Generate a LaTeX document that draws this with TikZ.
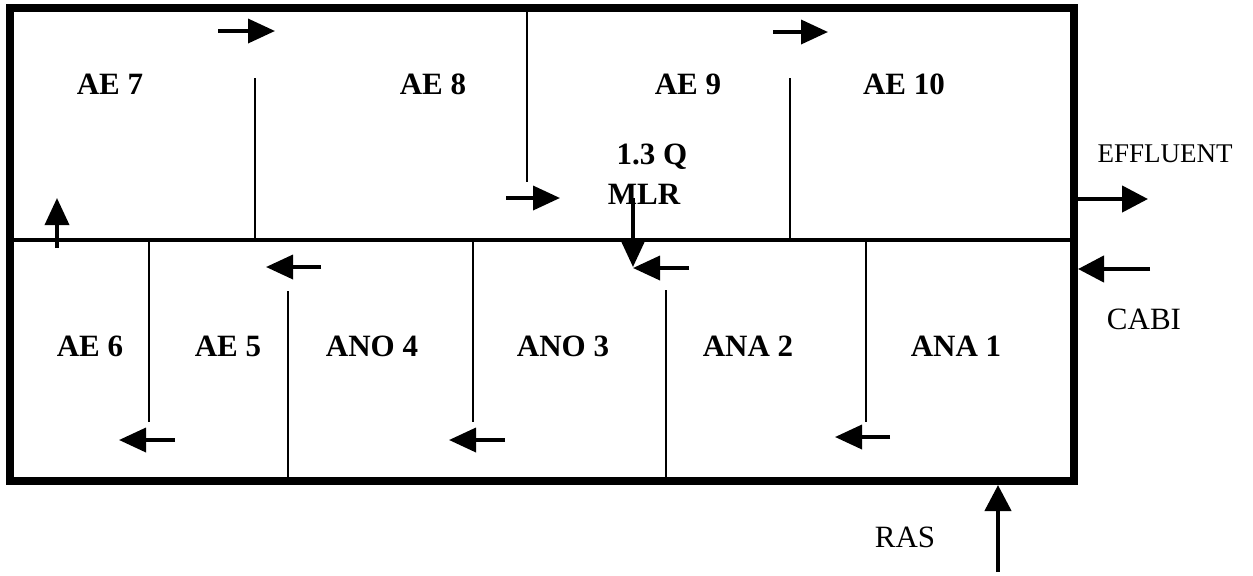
\documentclass[tikz,border=0pt]{standalone}
\usepackage{fontspec}
\setmainfont{Liberation Serif}
\usetikzlibrary{arrows.meta}

\tikzset{
  wall/.style={line width=4pt, line join=miter},
  midwall/.style={line width=1.6pt},
  baffle/.style={line width=1.2pt},
  flow/.style={line width=1.8pt, -{Triangle[length=13.5pt, width=12pt]}},
  stream/.style={line width=2.2pt, -{Triangle[length=13pt, width=13pt]}},
  zone/.style={font=\fontsize{15.5}{18}\selectfont\bfseries, inner sep=0pt},
  tag/.style={font=\fontsize{15.5}{18}\selectfont, inner sep=0pt},
}

\begin{document}
\begin{tikzpicture}[x=0.5pt, y=-0.5pt]
  \useasboundingbox (0,0) rectangle (1253,575);
  % Tank walls
  \draw[wall] (10,8) rectangle (1074,481);
  \draw[midwall] (10,240) -- (1074,240);
  % Baffles, upper row
  \foreach \x/\a/\b in {255/78/238, 527/10/182, 790/78/238}
    \draw[baffle] (\x,\a) -- (\x,\b);
  % Baffles, lower row
  \foreach \x/\a/\b in {149/240/422, 288/291/480, 473/240/422, 666/290/480, 866/240/422}
    \draw[baffle] (\x,\a) -- (\x,\b);
  % Zone labels
  \foreach \x/\y/\nm/\lab in {110/84/ae7/AE 7, 433/84/ae8/AE 8, 688/84/ae9/AE 9, 904/84/ae10/AE 10,
      90/346/ae6/AE 6, 228/346/ae5/AE 5, 372/346/ano4/ANO 4, 563/346/ano3/ANO 3,
      748/346/ana2/ANA 2, 956/346/ana1/ANA 1}
    \node[zone] (\nm) at (\x,\y) {\lab};
  \node[zone] (rate) at (652,157) {1.3 Q};
  \node[zone] (mlr) at (644,194) {MLR};
  % Streams in and out
  \node[tag, font=\fontsize{13.5}{16}\selectfont] (eff) at (1165,154) {EFFLUENT};
  \node[tag] (cabi) at (1144,319) {CABI};
  \node[tag] (ras) at (905,537) {RAS};
  \draw[stream] (1078,199) -- (1148,199);
  \draw[stream] (1150,269) -- (1078,269);
  \draw[stream] (998,572) -- (998,485);
  % Flow through the zones
  \draw[flow] (57,248) -- (57,198);
  \draw[flow] (218,31) -- (275,31);
  \draw[flow] (506,198) -- (560,198);
  \draw[flow] (773,32) -- (828,32);
  \draw[flow] (633,198) -- (633,267);
  \draw[flow] (689,268) -- (633,268);
  \draw[flow] (321,267) -- (266,267);
  \draw[flow] (175,440) -- (119,440);
  \draw[flow] (505,440) -- (449,440);
  \draw[flow] (890,437) -- (835,437);
\end{tikzpicture}
\end{document}
